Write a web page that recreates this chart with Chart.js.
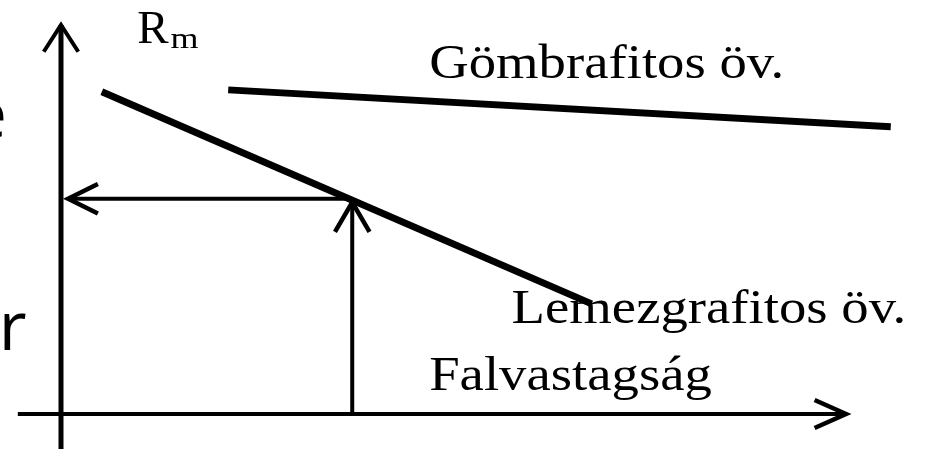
<!DOCTYPE html>
<html>
<head>
<meta charset="utf-8">
<script src="https://cdn.jsdelivr.net/npm/chart.js@4/dist/chart.umd.min.js"></script>
<style>
  html, body { margin: 0; padding: 0; background: #fff; }
  #wrap { width: 926px; height: 449px; }
</style>
</head>
<body>
<div id="wrap"><canvas id="chart" width="926" height="449"></canvas></div>
<script>
// schematic: wall thickness (x) vs tensile strength Rm (y), arbitrary units
const gombX = [21.3, 105.7];
const gombY = [83.3, 73.8];
const lemezX = [5.2, 67.6];
const lemezY = [82.8, 28.3];

// reading arrow: up from the thickness to the line, then left to the Rm axis
const readX = 37.1;
const readY = 55.0;

const axisX = [-5.5, 100];
const axisY = [-9.5, 100];

const labels = [
  { text: 'Gömbrafitos öv.', x: 46.9, y: 86.4 },
  { text: 'Lemezgrafitos öv.', x: 57.4, y: 23.4 },
  { text: 'Falvastagság', x: 46.9, y: 6.2 },
];

const pts = (xs, ys) => xs.map((x, i) => ({ x, y: ys[i] }));

const lineSet = (data, width) => ({
  data,
  showLine: true,
  borderColor: '#000',
  borderWidth: width,
  pointRadius: 0,
  borderCapStyle: 'butt',
  borderJoinStyle: 'miter',
  tension: 0,
  clip: false,
});

const datasets = [
  // axes with arrow heads
  lineSet(pts([0, 0], axisY), 5),
  lineSet(pts([-2.2, 0, 2.2], [93.1, 100, 93.1]), 4),
  lineSet(pts(axisX, [0, 0]), 4),
  lineSet(pts([96.0, 100, 96.0], [3.6, 0, -3.6]), 4.5),
  // curves
  lineSet(pts(lemezX, lemezY), 7),
  lineSet(pts(gombX, gombY), 7),
  // reading arrows
  lineSet(pts([readX, readX], [0, readY - 0.3]), 4),
  lineSet(pts([readX - 2.2, readX, readX + 2.2], [46.8, readY - 0.6, 46.8]), 4.5),
  lineSet(pts([readX, 0.9], [readY + 0.3, readY + 0.3]), 4),
  lineSet(pts([4.7, 0.9, 4.7], [59.1, readY + 0.3, 51.5]), 4.5),
];

const textPlugin = {
  id: 'texts',
  afterDatasetsDraw(chart) {
    const { ctx, scales: { x, y } } = chart;
    ctx.save();
    ctx.fillStyle = '#000';
    ctx.textBaseline = 'alphabetic';

    ctx.font = '48px "Liberation Serif", "Times New Roman", serif';
    labels.forEach((l) => {
      ctx.save();
      ctx.translate(x.getPixelForValue(l.x), y.getPixelForValue(l.y));
      ctx.scale(1.14, 1);
      ctx.fillText(l.text, 0, 0);
      ctx.restore();
    });

    // Rm axis title
    const rx = x.getPixelForValue(9.7);
    const ry = y.getPixelForValue(95.4);
    ctx.font = '47px "Liberation Serif", "Times New Roman", serif';
    ctx.fillText('R', rx, ry);
    const rw = ctx.measureText('R').width;
    ctx.font = '30px "Liberation Serif", "Times New Roman", serif';
    ctx.save();
    ctx.translate(rx + rw + 2, ry + 5);
    ctx.scale(1.2, 1);
    ctx.fillText('m', 0, 0);
    ctx.restore();

    // slide text cut off at the left edge
    ctx.font = '68px "Open Sans", "Liberation Sans", sans-serif';
    ctx.textAlign = 'right';
    ctx.fillText('e', x.getPixelForValue(-6.9), y.getPixelForValue(71.0));
    ctx.fillText('er', x.getPixelForValue(-4.4), y.getPixelForValue(16.5));
    ctx.restore();
  },
};

new Chart(document.getElementById('chart'), {
  type: 'scatter',
  data: { datasets },
  plugins: [textPlugin],
  options: {
    responsive: false,
    animation: false,
    layout: { padding: 0 },
    plugins: {
      legend: { display: false },
      tooltip: { enabled: false },
    },
    scales: {
      x: { type: 'linear', display: false, min: -7.77, max: 110.19 },
      y: { type: 'linear', display: false, min: -9.0, max: 106.4 },
    },
  },
});
</script>
</body>
</html>
